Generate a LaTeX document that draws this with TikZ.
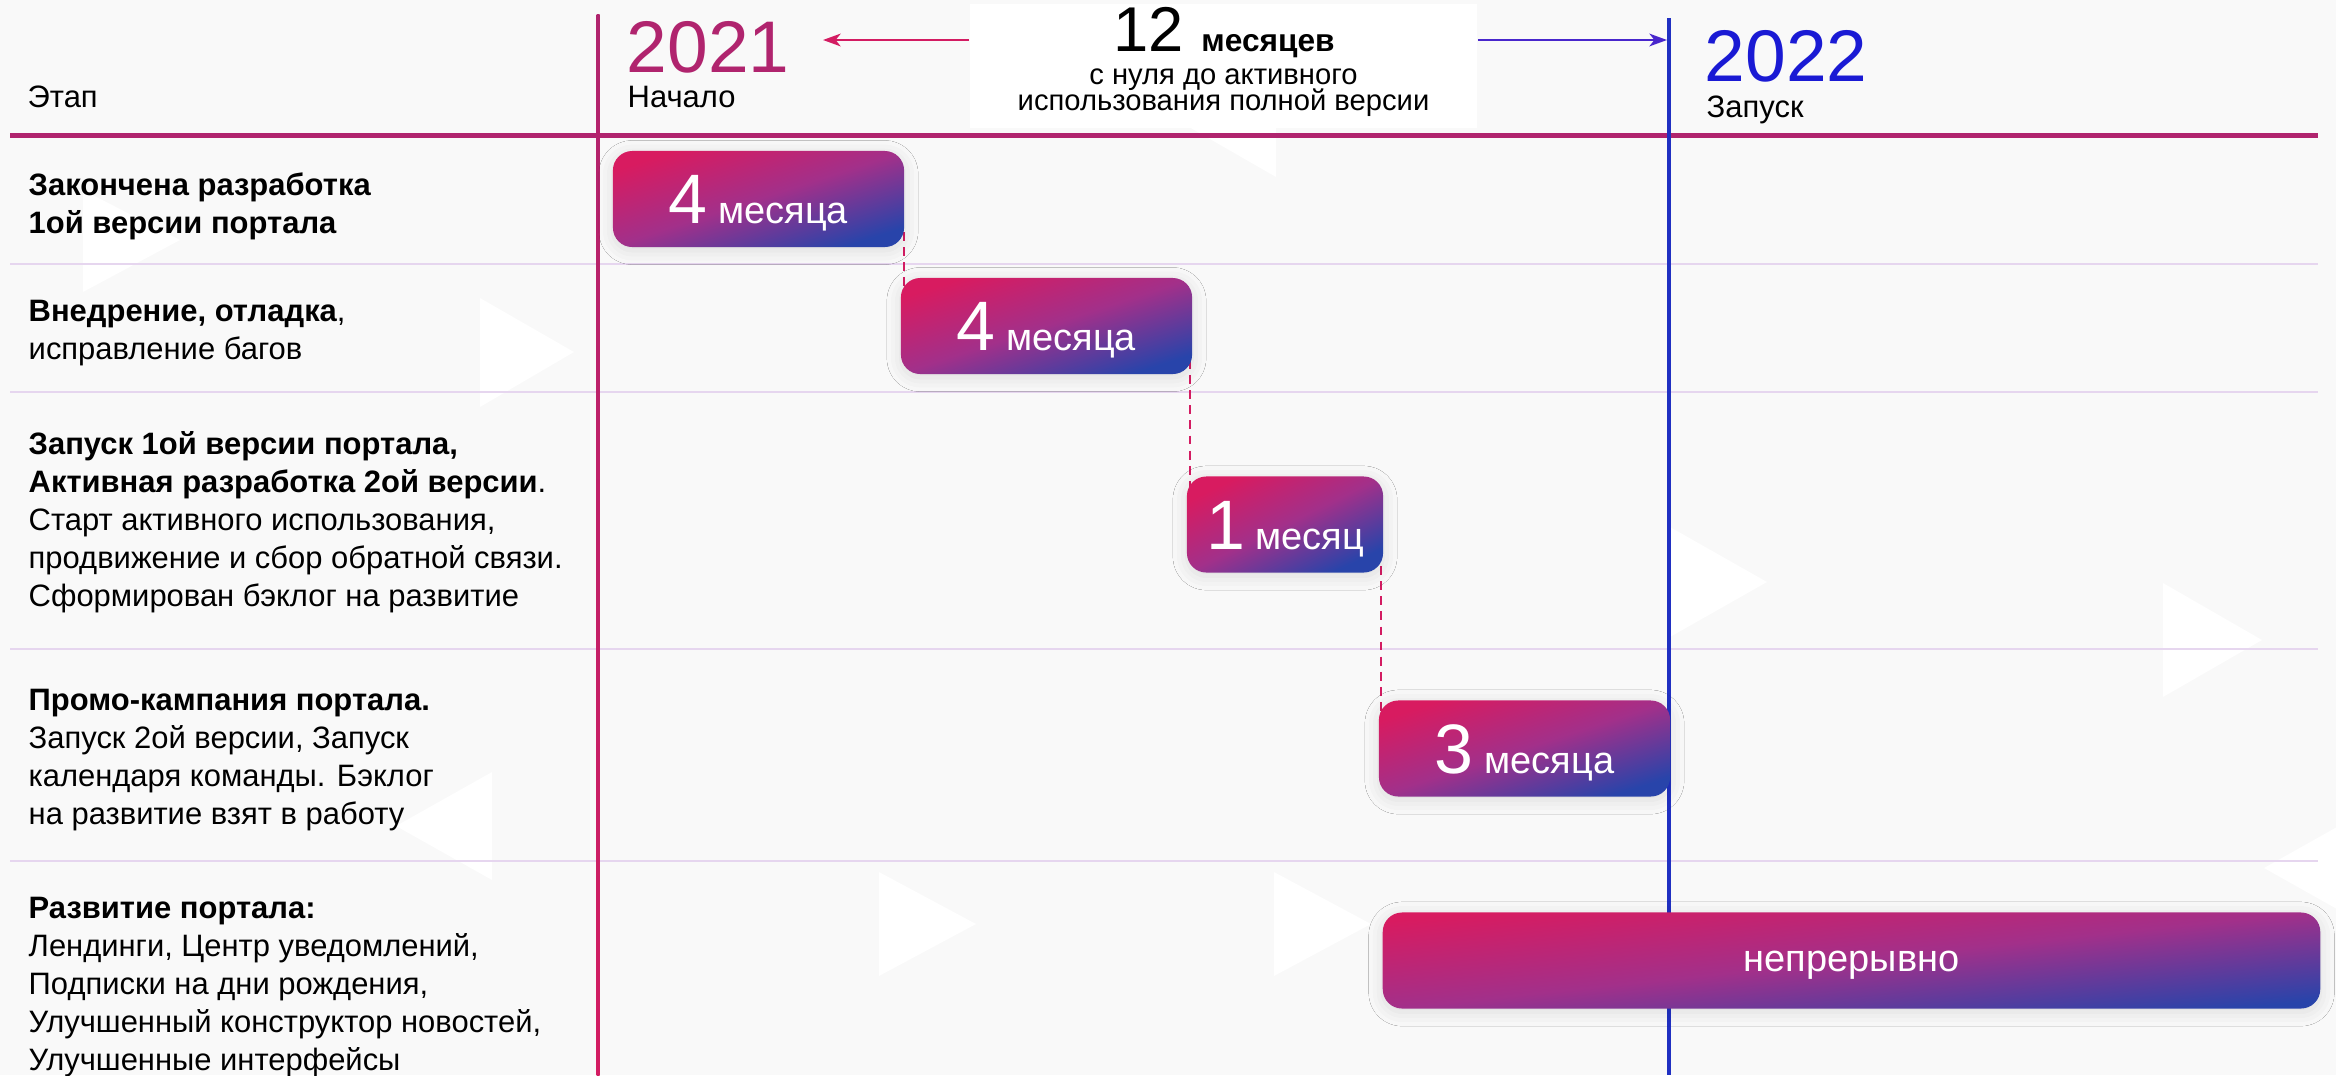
\documentclass[tikz,border=0pt]{standalone}
\usepackage{fontspec}
\setmainfont{Liberation Sans}
\usepackage{xcolor}
\usetikzlibrary{calc}
\usetikzlibrary{positioning}
\usetikzlibrary{arrows.meta}
\usetikzlibrary{shadows.blur}

\definecolor{plum}{HTML}{B0246E}
\definecolor{rose}{HTML}{D31C62}
\definecolor{royal}{HTML}{1A1AD4}
\definecolor{launchblue}{HTML}{2030C2}
\definecolor{violet}{HTML}{4826CC}
\definecolor{barpink}{HTML}{D81B60}
\definecolor{barmid}{HTML}{A2308A}
\definecolor{barblue}{HTML}{2844AA}
\definecolor{lilac}{HTML}{E6D6EF}
\definecolor{paper}{HTML}{F9F9F9}

\newcommand{\bignum}[1]{{\fontsize{19.9}{20}\selectfont #1}}

\tikzset{
	stage/.style={anchor=base west,align=left,inner sep=0pt,font=\fontsize{8.8}{10.8}\selectfont},
	year/.style={anchor=base west,inner sep=0pt,font=\fontsize{20.8}{21}\selectfont},
	bar/.style={rounded corners=5.5pt,minimum height=0.96cm,inner sep=0pt,text=white,
		top color=barpink,bottom color=barblue,middle color=barmid,shading angle=18,
		blur shadow={shadow xshift=0pt,shadow yshift=-1pt,shadow blur radius=4pt,shadow opacity=12},
		font=\fontsize{10.8}{12}\selectfont,text height=14.2pt,text depth=0pt},
	link/.style={draw=rose,line width=0.7pt,dash pattern=on 2.5pt off 1.8pt},
	rowline/.style={draw=lilac,line width=0.55pt},
	span arrow/.style={line width=0.7pt,-{Stealth[length=5pt,width=3.6pt,inset=1.4pt]}}
}

\begin{document}
\begin{tikzpicture}[x=0.01cm,y=-0.01cm]
	\useasboundingbox (0,0) rectangle (2336,1075);
	\fill[paper] (0,0) rectangle (2336,1075);
	
	% faint triangles in the background
	\fill[white] (83,190) -- (83,292) -- (180,240) -- cycle;
	\fill[white] (480,298) -- (480,407) -- (574,352) -- cycle;
	\fill[white] (1276,69) -- (1276,177) -- (1182,123) -- cycle;
	\fill[white] (1670,527) -- (1670,637) -- (1767,582) -- cycle;
	\fill[white] (2163,583) -- (2163,697) -- (2262,640) -- cycle;
	\fill[white] (2264,868) -- (2360,814) -- (2360,922) -- cycle;
	\fill[white] (492,772) -- (492,880) -- (396,826) -- cycle;
	\fill[white] (879,872) -- (879,976) -- (976,924) -- cycle;
	\fill[white] (1274,872) -- (1274,976) -- (1371,924) -- cycle;
	
	% grid
	\draw[plum,line width=1.42pt] (10,135) -- (2318,135);
	\draw[rowline] (10,264) -- (2318,264);
	\draw[rowline] (10,392) -- (2318,392);
	\draw[rowline] (10,649) -- (2318,649);
	\draw[rowline] (10,861) -- (2318,861);
	
	\coordinate (start) at (598,14);
	\coordinate (launch) at (1669,18);
	\shade[top color=plum,bottom color=rose] (596.5,14) rectangle (599.5,1075);
	\draw[launchblue,line width=1pt] (launch) -- (launch |- 0,1075);
	
	% header
	\node[stage] (stage head) at (27,107) {Этап};
	\node[year,text=plum] (y2021) at (626,72) {2021};
	\node[stage] (start label) at (627,107) {Начало};
	\node[year,text=royal] (y2022) at (1704,81) {2022};
	\node[stage] (launch label) at (1706,117) {Запуск};
	
	\node[fill=white,minimum width=5.07cm,minimum height=1.24cm,inner sep=0pt] (span) at (1223.5,66) {};
	\node[anchor=base,inner sep=0pt,font=\fontsize{9}{9}\selectfont] (twelve) at (1224,51) {\fontsize{18}{18}\selectfont 12 {\fontsize{9}{9}\selectfont\bfseries месяцев}};
	\node[anchor=base,align=center,inner sep=0pt,font=\fontsize{8.3}{7.7}\selectfont] (span text) at (1223.5,110) {с нуля до активного\\[-1.5pt]использования полной версии};
	
	\coordinate (left tip) at (823,40);
	\coordinate (right tip) at (1667,40);
	\draw[span arrow,rose] (span.west |- left tip) -- (left tip);
	\draw[span arrow,violet] (span.east |- right tip) -- (right tip);
	
	% stages (base = last line)
	\node[stage] (s1) at (28,233) {\textbf{Закончена разработка}\\\textbf{1ой версии портала}};
	\node[stage] (s2) at (28,359) {\textbf{Внедрение, отладка},\\исправление багов};
	\node[stage] (s3) at (28,606) {\textbf{Запуск 1ой версии портала,}\\\textbf{Активная разработка 2ой версии}.\\Старт активного использования,\\продвижение и сбор обратной связи.\\Сформирован бэклог на развитие};
	\node[stage] (s4) at (28,824) {\textbf{Промо-кампания портала.}\\Запуск 2ой версии, Запуск\\календаря команды. Бэклог\\на развитие взят в работу};
	\node[stage] (s5) at (28,1070) {\textbf{Развитие портала:}\\Лендинги, Центр уведомлений,\\Подписки на дни рождения,\\Улучшенный конструктор новостей,\\Улучшенные интерфейсы};
	
	% links under the bars
	\coordinate (b1 end) at (904,232);
	\coordinate (b2 end) at (1190,360);
	\coordinate (b3 end) at (1381,566);
	\draw[link] (b1 end) -- (b1 end |- 0,300);
	\draw[link] (b2 end) -- (b2 end |- 0,490);
	\draw[link] (b3 end) -- (b3 end |- 0,712);
	
	% bars
	\node[bar,minimum width=2.91cm] (b1) at (758.5,199) {\bignum{4} месяца};
	\node[bar,minimum width=2.91cm] (b2) at (1046.5,326) {\bignum{4} месяца};
	\node[bar,minimum width=1.96cm,shading angle=26] (b3) at (1285,524.5) {\bignum{1} месяц};
	\node[bar,minimum width=2.91cm] (b4) at (1524.5,748.5) {\bignum{3} месяца};
	\node[bar,minimum width=9.37cm,shading angle=6,text height=6.2pt] (b5) at (1851.5,960.5) {непрерывно};
\end{tikzpicture}
\end{document}
